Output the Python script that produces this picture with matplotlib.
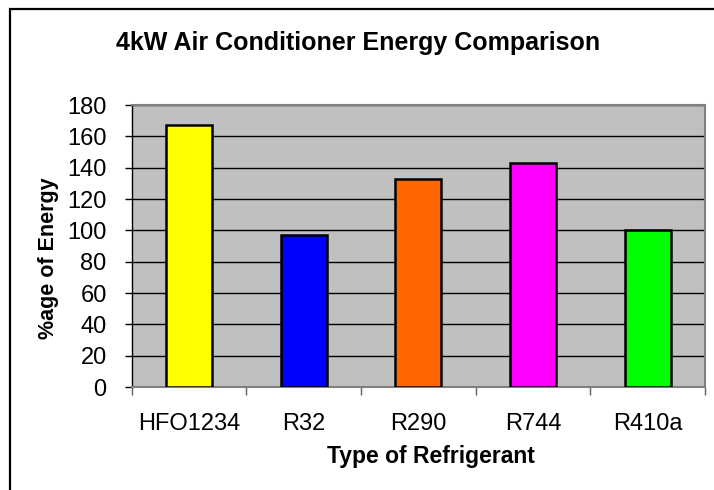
import matplotlib
matplotlib.use("Agg")
import matplotlib.pyplot as plt
from matplotlib.patches import Rectangle

plt.rcParams["font.family"] = ["Liberation Sans", "DejaVu Sans"]

# ── data ────────────────────────────────────────────────────────────
refrigerants = ["HFO1234", "R32", "R290", "R744", "R410a"]
energy_pct   = [167, 97, 133, 143, 100]
bar_colors   = ["#FFFF00", "#0000FF", "#FF6600", "#FF00FF", "#00FF00"]
y_ticks      = list(range(0, 181, 20))

W, H, DPI = 714, 490, 100
fig = plt.figure(figsize=(W / DPI, H / DPI), dpi=DPI)
fig.patch.set_facecolor("white")

# plot area in pixel units → figure fractions
left, right, top, bottom = 131.7, 705, 105, 387
ax = fig.add_axes([left / W, 1 - bottom / H, (right - left) / W, (bottom - top) / H])
ax.set_facecolor("#C0C0C0")

x = list(range(len(refrigerants)))
ax.bar(x, energy_pct, width=0.40, color=bar_colors,
       edgecolor="black", linewidth=1.8, zorder=3)

ax.set_xlim(-0.5, len(refrigerants) - 0.5)
ax.set_ylim(0, 180)
ax.set_yticks(y_ticks)
ax.yaxis.grid(True, color="black", linewidth=1.0, zorder=1)
ax.set_axisbelow(True)

# x: labels at centres, tick marks at category boundaries
ax.set_xticks(x)
ax.set_xticklabels(refrigerants, fontsize=17)
ax.tick_params(axis="x", which="major", length=0, pad=19)
ax.set_xticks([i - 0.5 for i in range(len(refrigerants) + 1)], minor=True)
ax.tick_params(axis="x", which="minor", length=5.8, width=1.0, color="#606060")

ax.tick_params(axis="y", length=5, width=1.0, color="black",
               labelsize=17, pad=13)

for side in ("top", "right", "bottom"):
    ax.spines[side].set_color("#808080")
    ax.spines[side].set_linewidth(1.5)
ax.spines["left"].set_color("black")
ax.spines["left"].set_linewidth(1.0)

# texts
fig.text(358.5 / W, 1 - 50 / H, "4kW Air Conditioner Energy Comparison",
         ha="center", va="baseline", fontsize=18, fontweight="bold")
fig.text(431 / W, 1 - 463 / H, "Type of Refrigerant",
         ha="center", va="baseline", fontsize=16.5, fontweight="bold")
fig.text(48.5 / W, 1 - 258 / H, "%age of Energy", rotation=90,
         ha="center", va="center", fontsize=15.5, fontweight="bold")

# chart frame (right and bottom edges fall outside the image)
fig.add_artist(Rectangle((10 / W, -0.05), 1.2, 1.05 - 9 / H,
                         transform=fig.transFigure, fill=False,
                         edgecolor="black", linewidth=1.6, clip_on=False))

fig.savefig("out.png", dpi=DPI, facecolor="white")
